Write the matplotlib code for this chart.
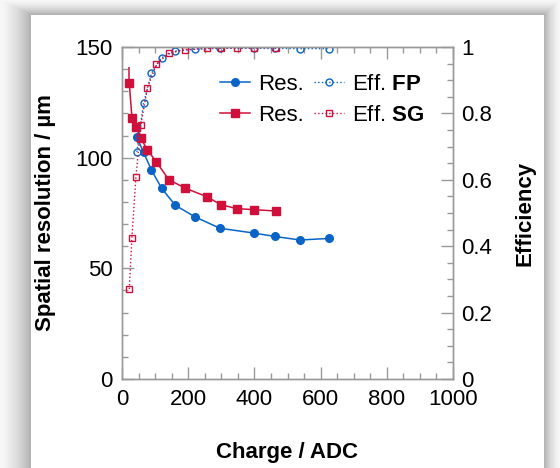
import numpy as np
import matplotlib
matplotlib.use('Agg')
import matplotlib.pyplot as plt
from matplotlib.patches import Rectangle
from matplotlib.ticker import MultipleLocator, FuncFormatter

plt.rcParams['font.family'] = 'Liberation Sans'
plt.rcParams['mathtext.fontset'] = 'custom'
plt.rcParams['mathtext.rm'] = 'Liberation Sans'
plt.rcParams['mathtext.bf'] = 'Liberation Sans:bold'

# data
fp_charge = [45, 65, 89, 120, 161, 220, 296, 400, 462, 538, 624]
fp_res = [109.2, 102.4, 94.4, 86.1, 78.5, 73.3, 68.1, 65.9, 64.4, 62.8, 63.5]
fp_eff = [0.684, 0.83, 0.921, 0.968, 0.988, 0.993, 0.996, 0.996, 0.996, 0.995, 0.995]

sg_charge = [22, 30, 42, 57, 77, 104, 141, 191, 256, 298, 346, 400, 464]
sg_res = [133.6, 118.1, 113.9, 108.8, 103.4, 98.1, 90.1, 86.2, 82.4, 78.8, 77.0, 76.5, 75.9]
sg_res_err = [7.5, 0, 0, 0, 0, 0, 0, 0, 0, 0, 0, 0, 0]
sg_eff = [0.271, 0.426, 0.608, 0.766, 0.878, 0.948, 0.981, 0.992, 0.996, 0.997, 0.997, 0.998, 0.998]

blue = '#0a64c8'
red = '#d0103a'
W, H = 560, 468

fig = plt.figure(figsize=(W / 100, H / 100), dpi=100)

# grey drop shadow around the white panel
n = 30
for k in range(n):
    g = 0.97 - 0.27 * (k / (n - 1)) ** 1.5
    x0 = k * 31 / n
    x1 = W - k * 16 / n
    top = k * 15 / n
    fig.add_artist(Rectangle((x0 / W, -0.1), (x1 - x0) / W, 1.1 - top / H,
                             transform=fig.transFigure, color=(g, g, g), lw=0, zorder=-10))
fig.add_artist(Rectangle((31 / W, -0.1), (544 - 31) / W, 1.1 - 15 / H,
                         transform=fig.transFigure, color='white', lw=0, zorder=-9))

ax = fig.add_axes([122 / W, 1 - 379 / H, 331 / W, 332 / H])
ax.set_facecolor('none')
ax2 = ax.twinx()

l1, = ax.plot(fp_charge, fp_res, '-o', color=blue, lw=1.1, ms=5.5, label='Res.')
ax.errorbar(sg_charge, sg_res, yerr=[np.zeros(len(sg_res)), sg_res_err], fmt='none',
            ecolor=red, elinewidth=1.1, capsize=0)
l2, = ax.plot(sg_charge, sg_res, '-s', color=red, lw=1.1, ms=5.5, label='Res.')
l3, = ax2.plot(fp_charge, fp_eff, ':o', color=blue, lw=1, ms=5, mfc='none', mew=1,
               label='Eff. $\\bf{FP}$')
l4, = ax2.plot(sg_charge, sg_eff, ':s', color=red, lw=1, ms=4.5, mfc='none', mew=1,
               label='Eff. $\\bf{SG}$')

ax.set_xlim(0, 1000)
ax.set_ylim(0, 150)
ax2.set_ylim(0, 1)

spine_c = '#999999'
for a in (ax, ax2):
    for s in a.spines.values():
        s.set_color(spine_c)
        s.set_linewidth(1)

ax.xaxis.set_major_locator(MultipleLocator(200))
ax.xaxis.set_minor_locator(MultipleLocator(50))
ax.yaxis.set_major_locator(MultipleLocator(50))
ax.yaxis.set_minor_locator(MultipleLocator(10))
ax2.yaxis.set_major_locator(MultipleLocator(0.2))
ax2.yaxis.set_minor_locator(MultipleLocator(0.05))
ax2.yaxis.set_major_formatter(FuncFormatter(lambda v, p: f'{v:g}'))

ax.tick_params(axis='x', which='both', direction='in', top=True, bottom=True,
               color=spine_c, labelsize=16, pad=7)
ax.tick_params(axis='y', which='both', direction='in', left=True, right=False,
               color=spine_c, labelsize=16, pad=6.5)
ax2.tick_params(axis='y', which='both', direction='in', right=True, left=False,
                color=spine_c, labelsize=16, pad=6)
for a in (ax, ax2):
    a.tick_params(which='major', length=8.6, width=1)
    a.tick_params(which='minor', length=4.3, width=1)

ax.set_xlabel('Charge / ADC', fontsize=16, fontweight='bold', va='center')
ax.xaxis.set_label_coords(0.5, -0.22)
ax.set_ylabel('Spatial resolution / µm', fontsize=16, fontweight='bold', va='center')
ax.yaxis.set_label_coords(-0.23, 0.5)
ax2.set_ylabel('Efficiency', fontsize=16, fontweight='bold', va='center')
ax2.yaxis.set_label_coords(1.2175, 0.5)

ax2.legend([l1, l2, l3, l4], [l1.get_label(), l2.get_label(), l3.get_label(), l4.get_label()],
           ncol=2, frameon=False, fontsize=16, loc='upper left',
           bbox_to_anchor=(220 / W, 1 - 74 / H), bbox_transform=fig.transFigure,
           borderpad=0, borderaxespad=0, handlelength=1.36, handletextpad=0.36,
           columnspacing=0.45, labelspacing=0.43)

fig.savefig('out.png', dpi=100)
